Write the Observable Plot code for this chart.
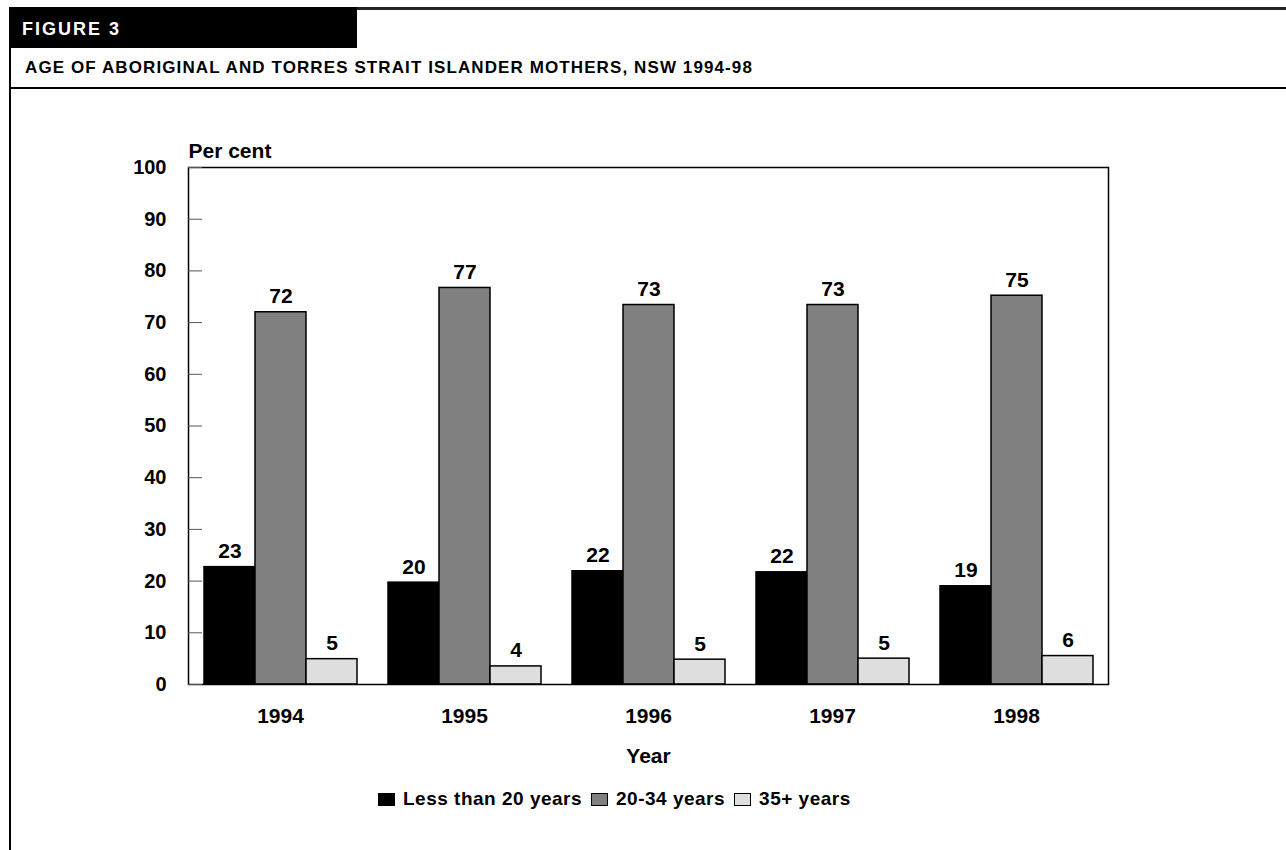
<!DOCTYPE html>
<html>
<head>
<meta charset="utf-8">
<script src="https://cdn.jsdelivr.net/npm/d3@7"></script>
<script src="https://cdn.jsdelivr.net/npm/@observablehq/plot@0.6"></script>
<style>
  body { margin: 0; background: #fff; font-family: "Liberation Sans", Arial, sans-serif; }
  #page { position: relative; width: 1286px; height: 850px; overflow: hidden; background: #fff; }
  .topline { position: absolute; left: 9px; top: 7px; width: 1277px; height: 3px; background: #222; }
  .leftline { position: absolute; left: 9px; top: 7px; width: 2px; height: 843px; background: #000; }
  .tab { position: absolute; left: 9px; top: 7px; width: 348px; height: 41px; background: #000; }
  .tab span { position: absolute; left: 13px; top: 12px; color: #fff; font-weight: bold; font-size: 18px; letter-spacing: 2px; line-height: 20px; }
  .title { position: absolute; left: 25px; top: 58px; font-weight: bold; font-size: 17px; line-height: 20px; letter-spacing: 1.1px; color: #000; white-space: nowrap; }
  .divider { position: absolute; left: 9px; top: 87px; width: 1277px; height: 2px; background: #000; }
  #chart { position: absolute; left: 0; top: 140px; }
  #legend { position: absolute; left: 378px; top: 788px; display: flex; font-weight: bold; font-size: 19px; letter-spacing: 0.5px; color: #000; white-space: nowrap; }
  .item { display: flex; align-items: center; margin-right: 9px; }
  .sw { width: 15px; height: 11px; border: 1.5px solid #000; margin-right: 8px; }
</style>
</head>
<body>
<div id="page">
  <div class="topline"></div>
  <div class="leftline"></div>
  <div class="tab"><span>FIGURE 3</span></div>
  <div class="title">AGE OF ABORIGINAL AND TORRES STRAIT ISLANDER MOTHERS, NSW 1994-98</div>
  <div class="divider"></div>
  <div id="chart"></div>
  <div id="legend"></div>
</div>
<script>
const years = ["1994", "1995", "1996", "1997", "1998"];
const groups = ["Less than 20 years", "20-34 years", "35+ years"];
const colors = ["#000000", "#808080", "#dedede"];
const under20 = [22.7, 19.7, 21.9, 21.7, 19.0];
const age20to34 = [72.0, 76.7, 73.4, 73.4, 75.2];
const age35plus = [4.9, 3.5, 4.8, 5.0, 5.5];
const under20Labels = ["23", "20", "22", "22", "19"];
const age20to34Labels = ["72", "77", "73", "73", "75"];
const age35plusLabels = ["5", "4", "5", "5", "6"];
const yTicks = [0, 10, 20, 30, 40, 50, 60, 70, 80, 90, 100];

const series = [under20, age20to34, age35plus];
const seriesLabels = [under20Labels, age20to34Labels, age35plusLabels];
const rows = [];
years.forEach((yr, i) => {
  groups.forEach((g, j) => {
    rows.push({year: yr, group: g, value: series[j][i], label: seriesLabels[j][i]});
  });
});

const font = "Liberation Sans, Arial, sans-serif";
const chart = Plot.plot({
  width: 1286,
  height: 630,
  marginTop: 27,
  marginBottom: 86,
  marginLeft: 186,
  marginRight: 177,
  style: {fontFamily: font, fontWeight: "bold", fontSize: "19px", color: "#000", background: "transparent"},
  fx: {domain: years, padding: 0},
  x: {domain: groups, axis: null, paddingInner: 0, paddingOuter: 0.27},
  y: {domain: [0, 100]},
  color: {domain: groups, range: colors},
  marks: [
    Plot.barY(rows, {fx: "year", x: "group", y: "value", fill: "group", stroke: "#000", strokeWidth: 1.5}),
    Plot.frame({facet: "super", stroke: "#000", strokeWidth: 1.5}),
    Plot.axisY({ticks: yTicks, tickSize: -14, tickFormat: () => "", label: null, stroke: "#555"}),
    Plot.axisY({ticks: yTicks, tickSize: 0, tickPadding: 22, fontSize: 20, label: null}),
    Plot.axisY({ticks: [], tickSize: 0, fontSize: 21,
      label: "Per cent", labelAnchor: "top", labelArrow: "none", labelOffset: 0}),
    Plot.axisFx({anchor: "bottom", tickSize: 0, tickPadding: 24, fontSize: 21, label: null}),
    Plot.axisFx({anchor: "bottom", ticks: [], tickSize: 0, fontSize: 21,
      label: "Year", labelAnchor: "center", labelArrow: "none", labelOffset: 78}),
    Plot.text(rows, {fx: "year", x: "group", y: "value", text: "label", dy: -9, lineAnchor: "bottom", fontSize: 21, fontWeight: "bold"})
  ]
});
document.getElementById("chart").appendChild(chart);

const legend = document.getElementById("legend");
groups.forEach((g, j) => {
  const item = document.createElement("div");
  item.className = "item";
  const sw = document.createElement("div");
  sw.className = "sw";
  sw.style.background = colors[j];
  const t = document.createElement("span");
  t.textContent = g;
  item.appendChild(sw);
  item.appendChild(t);
  legend.appendChild(item);
});
</script>
</body>
</html>
